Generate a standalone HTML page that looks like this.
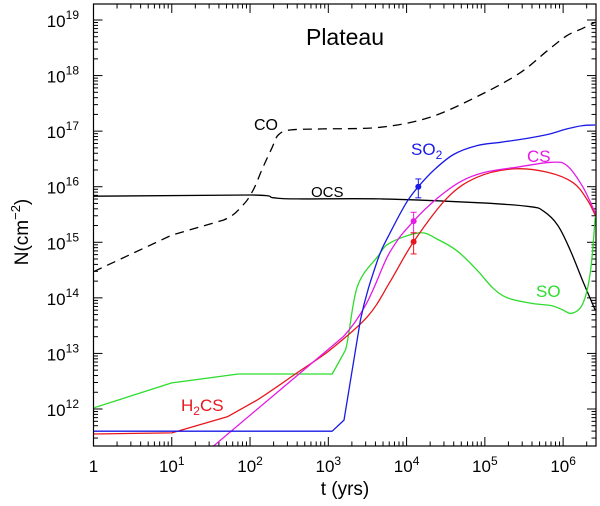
<!DOCTYPE html>
<html><head><meta charset="utf-8"><style>
html,body{margin:0;padding:0;background:#fff}
svg{display:block;font-family:"Liberation Sans",sans-serif}
</style></head><body>
<svg id="chart" width="600" height="506" viewBox="0 0 600 506" xmlns="http://www.w3.org/2000/svg"></svg>
<script>
// data in log10 units
const coT=[0,1.0,1.66,1.91,2.04,2.15,2.28,2.36,2.51,2.93,3.66,4.30,4.94,5.45,5.8,6.05,6.25,6.41];
const coN=[14.47,15.13,15.40,15.67,15.94,16.30,16.70,16.93,17.02,17.04,17.07,17.25,17.65,18.05,18.45,18.72,18.85,18.96];
const ocsT=[0,2.0,2.3,2.6,3.66,4.94,5.58,5.75,5.93,6.09,6.26,6.41];
const ocsN=[15.83,15.85,15.80,15.78,15.78,15.71,15.64,15.56,15.31,14.86,14.27,13.78];
const so2T=[0,3.05,3.20,3.41,3.63,3.79,4.0,4.15,4.35,4.6,4.9,5.2,5.5,5.8,6.05,6.25,6.41];
const so2N=[11.60,11.60,11.80,13.60,14.68,15.17,15.72,16.0,16.3,16.58,16.74,16.8,16.86,16.94,17.04,17.1,17.11];
const csT=[1.53,3.19,3.79,4.09,4.4,4.7,5.0,5.4,5.85,6.05,6.25,6.41];
const csN=[11.33,13.30,14.83,15.38,15.8,16.1,16.26,16.35,16.44,16.38,16.0,15.53];
const h2csT=[0,1.0,1.71,2.09,2.60,3.02,3.50,3.79,4.09,4.52,4.90,5.36,5.80,6.13,6.31,6.41];
const h2csN=[11.55,11.57,11.86,12.16,12.65,13.06,13.66,14.29,15.01,15.8,16.17,16.32,16.26,16.07,15.76,15.49];
const soT=[0,1.0,1.85,3.05,3.22,3.37,3.63,3.79,4.17,4.4,4.65,4.9,5.1,5.29,5.6,5.85,6.0,6.1,6.22,6.3,6.36,6.41];
const soN=[12.02,12.47,12.63,12.63,13.06,14.20,14.74,14.99,15.17,15.05,14.84,14.5,14.18,14.0,13.9,13.86,13.78,13.72,13.82,14.1,14.6,15.45];
const obsT=[4.15,4.09,4.09];
const obsN=[16.00,15.38,15.01];
const obsLo=[15.80,15.17,14.79];
const obsHi=[16.14,15.54,15.17];
const obsNames=['so2','cs','h2cs'];
const xTickExp=[0,1,2,3,4,5,6];
const yTickExp=[12,13,14,15,16,17,18,19];

const L=93.5,R=596,T=4,B=446;
const X0=0,X1=6.42,Y0=11.334,Y1=19.288;
function sx(v){return L+(v-X0)/(X1-X0)*(R-L);}
function sy(v){return B-(v-Y0)/(Y1-Y0)*(B-T);}
const NS='http://www.w3.org/2000/svg';
const svg=document.getElementById('chart');
function el(tag,attrs,parent){const e=document.createElementNS(NS,tag);for(const k in attrs)e.setAttribute(k,attrs[k]);(parent||svg).appendChild(e);return e;}

const clip=el('clipPath',{id:'pc'});el('rect',{x:L,y:T,width:R-L,height:B-T},clip);

const tg=el('g',{stroke:'#000','stroke-width':1});


for(let e=0;e<=6;e++){for(let m=1;m<=9;m++){const v=e+Math.log10(m);if(v>X1)break;const x=sx(v);const len=m===1?9:4.5;
el('line',{x1:x,y1:B,x2:x,y2:B-len},tg);el('line',{x1:x,y1:T,x2:x,y2:T+len},tg);}}
for(let e=11;e<=19;e++){for(let m=1;m<=9;m++){const v=e+Math.log10(m);if(v<Y0||v>Y1)continue;const y=sy(v);const len=m===1?9:4.5;
el('line',{x1:L,y1:y,x2:L+len,y2:y},tg);el('line',{x1:R,y1:y,x2:R-len,y2:y},tg);}}

function series(ts,ns,color,name,dash,linearUpTo){
  const P=ts.map((t,i)=>[sx(t),sy(ns[i])]);
  let d='M'+P[0][0].toFixed(1)+' '+P[0][1].toFixed(1);
  for(let i=0;i<P.length-1;i++){
    const p1=P[i],p2=P[i+1];
    if(i<linearUpTo){d+='L'+p2[0].toFixed(1)+' '+p2[1].toFixed(1);continue;}
    const p0=P[i-1]||p1,p3=P[i+2]||p2;
    const c1=[p1[0]+(p2[0]-p0[0])/6,p1[1]+(p2[1]-p0[1])/6];
    const c2=[p2[0]-(p3[0]-p1[0])/6,p2[1]-(p3[1]-p1[1])/6];
    d+='C'+c1[0].toFixed(1)+' '+c1[1].toFixed(1)+' '+c2[0].toFixed(1)+' '+c2[1].toFixed(1)+' '+p2[0].toFixed(1)+' '+p2[1].toFixed(1);
  }
  const p=el('path',{d:d,fill:'none',stroke:color,'stroke-width':1.3,'clip-path':'url(#pc)','stroke-linejoin':'round'});
  if(dash)p.setAttribute('stroke-dasharray',dash);
  
  
}
series(coT,coN,'#000','co-line','9,6',2);
series(ocsT,ocsN,'#000','ocs-line',null,1);
series(soT,soN,'#2ddc2d','so-line',null,4);
series(h2csT,h2csN,'#e8161e','h2cs-line',null,3);
series(csT,csN,'#e619e6','cs-line',null,1);
series(so2T,so2N,'#1a1ae6','so2-line',null,3);

const obsCol=['#1a1ae6','#e619e6','#e8161e'];
for(let i=0;i<obsT.length;i++){
  const g=el('g',{stroke:obsCol[i],fill:obsCol[i]});
  
  
  const x=sx(obsT[i]);
  el('line',{x1:x,y1:sy(obsLo[i]),x2:x,y2:sy(obsHi[i]),'stroke-width':1},g);
  el('line',{x1:x-3,y1:sy(obsLo[i]),x2:x+3,y2:sy(obsLo[i]),'stroke-width':1},g);
  el('line',{x1:x-3,y1:sy(obsHi[i]),x2:x+3,y2:sy(obsHi[i]),'stroke-width':1},g);
  el('circle',{cx:x,cy:sy(obsN[i]),r:3,stroke:'none'},g);
}

el('rect',{x:L,y:T,width:R-L,height:B-T,fill:'none',stroke:'#000','stroke-width':1.2,});

for(const e of xTickExp){const t=el('text',{x:sx(e),y:472,'font-size':17,'text-anchor':'middle',fill:'#000'});
 
 
 if(e===0){t.textContent='1';}else{t.textContent='10';const s=el('tspan',{'font-size':12,dy:-7},t);s.textContent=String(e);}}
for(const e of yTickExp){const t=el('text',{x:79,y:sy(e)+7,'font-size':17,'text-anchor':'end',fill:'#000'});
 
 
 t.textContent='10';const s=el('tspan',{'font-size':12,dy:-8},t);s.textContent=String(e);}
</script>
<svg width="600" height="506" style="position:absolute;left:0;top:0" font-family="Liberation Sans, sans-serif">
<text x="345" y="495" font-size="19" text-anchor="middle">t (yrs)</text>
<text transform="translate(28,232) rotate(-90)" font-size="19" text-anchor="middle">N(cm<tspan font-size="13" dy="-8">−2</tspan><tspan dy="8">)</tspan></text>
<text x="345" y="45" font-size="23" text-anchor="middle">Plateau</text>
<text x="254" y="130" font-size="16">CO</text>
<text x="311" y="197" font-size="15">OCS</text>
<text x="411" y="155" font-size="17" fill="#1a1ae6">SO<tspan font-size="12" dy="4">2</tspan></text>
<text x="527" y="162" font-size="17" fill="#e619e6">CS</text>
<text x="536" y="297" font-size="17" fill="#2ddc2d">SO</text>
<text x="181" y="411" font-size="17" fill="#e8161e">H<tspan font-size="12" dy="4">2</tspan><tspan dy="-4">CS</tspan></text>
</svg>
</body></html>
